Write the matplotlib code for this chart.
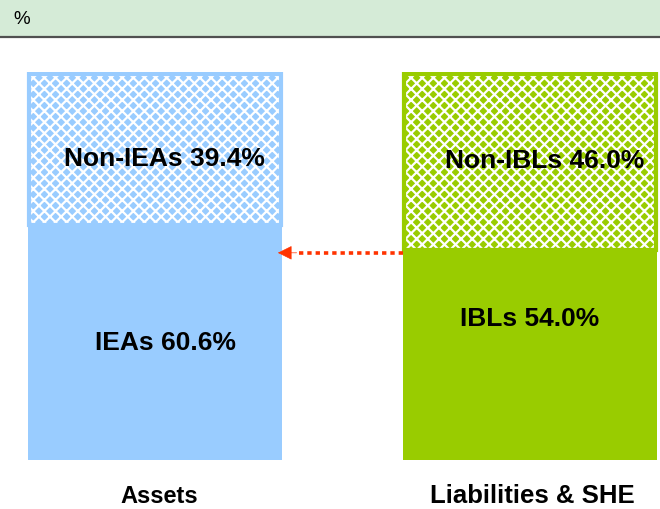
import matplotlib
matplotlib.use("Agg")
import matplotlib.pyplot as plt
from matplotlib.patches import Rectangle

plt.rcParams['font.family'] = ['Liberation Sans', 'DejaVu Sans']
plt.rcParams['hatch.linewidth'] = 1.6

categories = ["Assets", "Liabilities & SHE"]
lower_labels = ["IEAs", "IBLs"]
upper_labels = ["Non-IEAs", "Non-IBLs"]
lower_values = [60.6, 54.0]
upper_values = [39.4, 46.0]
colors = ["#99ccff", "#99cc00"]
unit_label = "%"

W, H = 660, 509
fig = plt.figure(figsize=(W / 100, H / 100), dpi=100)

# header band
fig.add_artist(Rectangle((0, 1 - 36 / H), 1, 36 / H, transform=fig.transFigure,
                         facecolor="#d5ebd7", edgecolor="none", zorder=0))
fig.add_artist(plt.Line2D([0, 1], [1 - 37 / H, 1 - 37 / H], transform=fig.transFigure,
                          color="#505050", lw=1.6))
fig.text(13 / W, 1 - 19 / H, unit_label, fontsize=13.5, va="center", ha="left")

ax = fig.add_axes([0, (H - 460) / H, 1, (460 - 72) / H])
ax.set_xlim(-155 / 375, (W - 155) / 375)
ax.set_ylim(0, 100)
ax.axis("off")

x = [0, 1]
width = 254 / 375
for i in range(2):
    ax.bar(x[i], lower_values[i], width=width, color=colors[i], edgecolor="none", lw=0,
           zorder=1)
    ax.bar(x[i], upper_values[i], bottom=lower_values[i], width=width,
           color=colors[i], edgecolor="white", hatch="xxx", lw=0, zorder=1)
    ax.bar(x[i], upper_values[i] - 0.4, bottom=lower_values[i], width=width - 0.006,
           fill=False, edgecolor=colors[i], lw=3, joinstyle="miter", zorder=2)

lab_kw = dict(ha="center", va="center", fontsize=19, fontweight="bold", zorder=3)
ax.text(x[0] + 0.027, 30.2, f"{lower_labels[0]} {lower_values[0]:.1f}%", **lab_kw)
ax.text(x[0] + 0.024, 77.6, f"{upper_labels[0]} {upper_values[0]:.1f}%", **lab_kw)
ax.text(x[1] + 0.0, 36.4, f"{lower_labels[1]} {lower_values[1]:.1f}%", **lab_kw)
ax.text(x[1] + 0.04, 77.0, f"{upper_labels[1]} {upper_values[1]:.1f}%", **lab_kw)

cat_sizes = [17, 18.5]
cat_dx = [0.01, 0.005]
for i in range(2):
    ax.text(x[i] + cat_dx[i], -9.3, categories[i], ha="center", va="center",
            fontsize=cat_sizes[i], fontweight="bold", clip_on=False)

# dotted arrow from liabilities to assets
arrow_y = 53.4
start_x = x[1] - width / 2
tip_x = x[0] + width / 2 - 0.011
ax.plot([start_x, tip_x + 0.045], [arrow_y, arrow_y], color="#ff3300", lw=2.6,
        linestyle=(0, (1.2, 1.1)), dash_capstyle="butt", zorder=4)
ax.annotate("", xy=(tip_x, arrow_y), xytext=(tip_x + 0.05, arrow_y),
            arrowprops=dict(arrowstyle="-|>,head_length=0.9,head_width=0.45",
                            color="#ff3300", lw=0.5, shrinkA=0, shrinkB=0), zorder=4)

fig.savefig("out.png", dpi=100)
